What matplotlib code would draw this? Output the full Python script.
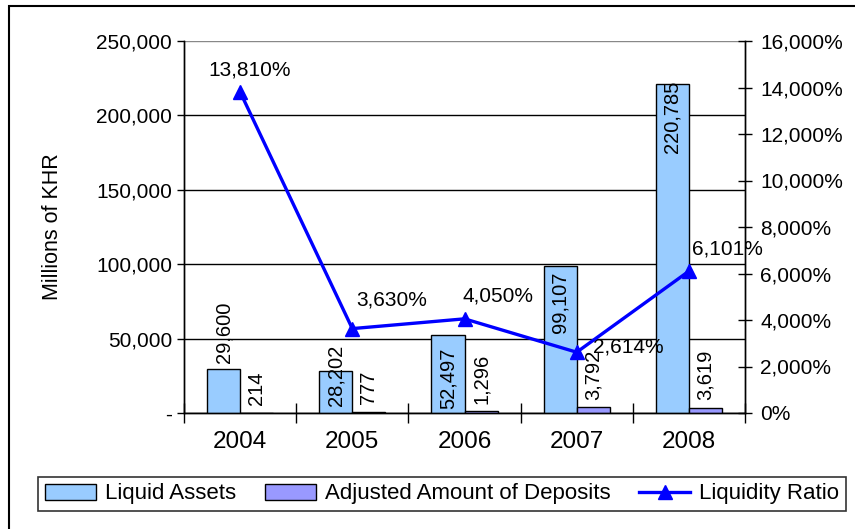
import matplotlib
matplotlib.use("Agg")
from matplotlib import pyplot as plt
from matplotlib.patches import Rectangle
from matplotlib.ticker import FuncFormatter
import numpy as np

years = ["2004", "2005", "2006", "2007", "2008"]
liquid_assets = [29600, 28202, 52497, 99107, 220785]
adjusted_deposits = [214, 777, 1296, 3792, 3619]
liquidity_ratio = [13810, 3630, 4050, 2614, 6101]

# where Excel happened to put the labels (label centres, data units)
liq_label_y = [54000, 25500, 23500, 74500, 199000]
ratio_label_off = [(10, 22), (39, 29), (33, 23), (52, 5), (39, 22)]

plt.rcParams['font.family'] = ['Liberation Sans', 'DejaVu Sans']

fig = plt.figure(figsize=(8.55, 5.29), dpi=100)
ax = fig.add_axes([184/855, 1-413/529, (745-184)/855, (413-41)/529])
ax2 = ax.twinx()

x = np.arange(len(years))
w = 0.295
ax.bar(x - w, liquid_assets, w, align='edge', color='#99CCFF', edgecolor='black',
       lw=1, label='Liquid Assets', zorder=3)
ax.bar(x, adjusted_deposits, w, align='edge', color='#9999FF', edgecolor='black',
       lw=1, label='Adjusted Amount of Deposits', zorder=3)

for i in range(len(years)):
    ax.text(x[i] - w/2, liq_label_y[i], f"{liquid_assets[i]:,}", rotation=90,
            ha='center', va='center', fontsize=14.5, zorder=5)
    ax.text(x[i] + w/2, adjusted_deposits[i] + 5000, f"{adjusted_deposits[i]:,}",
            rotation=90, ha='center', va='bottom', fontsize=14.5, zorder=5)

ax.set_ylim(0, 250000)
ax.set_xlim(-0.5, len(years) - 0.5)
ax.set_yticks(np.arange(0, 250001, 50000))
ax.yaxis.set_major_formatter(FuncFormatter(lambda v, p: '-' if v == 0 else f"{int(v):,}"))
ax.grid(axis='y', color='black', lw=1, zorder=0)
ax.get_ygridlines()[-1].set_color('#888888')
ax.set_axisbelow(True)
ax.set_ylabel("Millions of KHR", fontsize=15.5, labelpad=24)

ax.set_xticks(x)
ax.set_xticklabels(years, fontsize=17.5)
ax.set_xticks(np.arange(-0.5, len(years), 1), minor=True)
ax.tick_params(axis='x', which='major', length=0, pad=13)
ax.tick_params(axis='x', which='minor', direction='inout', length=14, width=1)
ax.tick_params(axis='y', labelsize=15, length=5, width=1, direction='out')

ax2.plot(x, liquidity_ratio, color='#0000FF', lw=2.4, marker='^', markersize=10,
         label='Liquidity Ratio', zorder=4)
for i in range(len(years)):
    ax2.annotate(f"{liquidity_ratio[i]:,}%", (x[i], liquidity_ratio[i]),
                 xytext=ratio_label_off[i], textcoords='offset pixels',
                 ha='center', va='center', fontsize=15)
ax2.set_ylim(0, 16000)
ax2.set_yticks(np.arange(0, 16001, 2000))
ax2.yaxis.set_major_formatter(FuncFormatter(lambda v, p: f"{int(v):,}%"))
ax2.tick_params(axis='y', labelsize=15, length=10, width=1, direction='inout', pad=6)

for a in (ax, ax2):
    a.spines['top'].set_visible(False)
    for s in ('left', 'right', 'bottom'):
        a.spines[s].set_color('black')
        a.spines[s].set_linewidth(1)

h1, l1 = ax.get_legend_handles_labels()
h2, l2 = ax2.get_legend_handles_labels()
leg = fig.legend(h1 + h2, l1 + l2, loc='center', ncol=3, fontsize=16,
                 bbox_to_anchor=(442/855, 1-494/529), frameon=True, fancybox=False,
                 edgecolor='black', handlelength=2.3, handletextpad=0.4,
                 columnspacing=1.3, borderpad=0.3)
leg.get_frame().set_linewidth(1.2)

fig.patches.append(Rectangle((9/855, -0.1), 1.2, 1 - 6/529 + 0.1, transform=fig.transFigure,
                             fill=False, edgecolor='black', lw=1.5))

fig.savefig("out.png", dpi=100)
